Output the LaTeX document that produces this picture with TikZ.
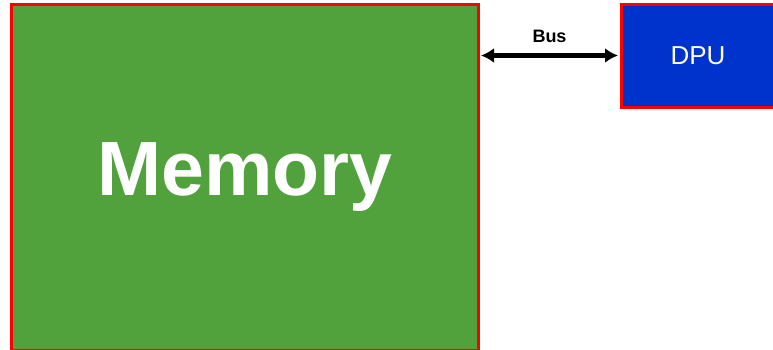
\documentclass[tikz,border=0pt]{standalone}
\usepackage{fontspec}
\setmainfont{Liberation Sans}
\usepackage{tikz}
\usetikzlibrary{arrows,arrows.meta}
\definecolor{memgreen}{RGB}{81,162,61}
\definecolor{dpublue}{RGB}{0,51,204}
\begin{document}
\begin{tikzpicture}[x=1pt,y=-1pt]
\tikzstyle{every node}=[inner sep=0pt,text=white]
\tikzstyle{unit}=[draw=red,line width=3pt,rectangle]
\tikzstyle{link}=[{Latex[length=13pt,width=15pt]}-{Latex[length=13pt,width=15pt]},line width=4.5pt]
\useasboundingbox (0,0) rectangle (773,349);
\path
  (244.75,177) node [unit,fill=memgreen,minimum width=466.5pt,minimum height=346pt]
     (memory) {\fontsize{77}{77}\selectfont\bfseries Memory}
  (698,55.5) node [unit,fill=dpublue,minimum width=154pt,minimum height=103pt]
     (dpu) {\fontsize{26}{26}\selectfont DPU}
;
\draw[link]
  ([xshift=1.5pt]memory.east |- dpu.west) -- node [above=11pt,text=black] (bus)
     {\fontsize{18}{18}\selectfont\bfseries Bus} ([xshift=-1.5pt]dpu.west)
;
\end{tikzpicture}
\end{document}
